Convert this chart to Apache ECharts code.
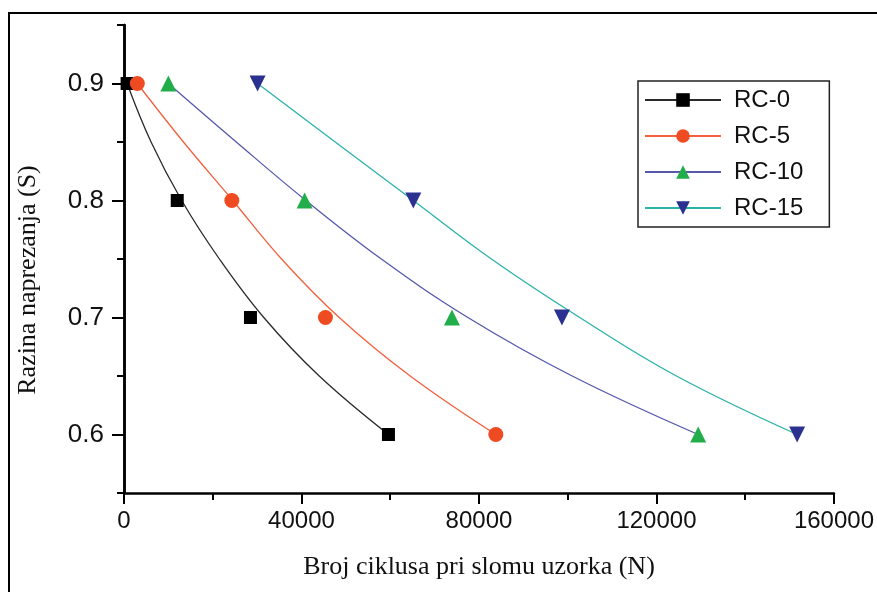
<!DOCTYPE html>
<html>
<head>
<meta charset="utf-8">
<script src="https://cdn.jsdelivr.net/npm/echarts@6/dist/echarts.min.js"></script>
<style>
html,body{margin:0;padding:0;background:#fff;}
#chart{width:877px;height:592px;}
</style>
</head>
<body>
<div id="chart"></div>
<script>
// ---- data ----
const seriesNames = ['RC-0', 'RC-5', 'RC-10', 'RC-15'];
const stressLevels = [0.9, 0.8, 0.7, 0.6];
const cyclesRC0 = [700, 12000, 28500, 59600];
const cyclesRC5 = [3000, 24300, 45400, 83800];
const cyclesRC10 = [10000, 40700, 73900, 129400];
const cyclesRC15 = [30100, 65200, 98700, 151700];
// fitted curves
const fitLevels = [0.9, 0.85, 0.8, 0.75, 0.7, 0.65, 0.6];
const fitRC0 = [700, 6100, 13000, 21500, 31500, 44000, 59600];
const fitRC5 = [3000, 13400, 24500, 35500, 48500, 64500, 83800];
const fitRC10 = [10000, 25300, 41000, 58000, 77500, 101000, 129400];
const fitRC15 = [30100, 47600, 65200, 82800, 102700, 124500, 151700];
// tick values
const xTickValues = [0, 40000, 80000, 120000, 160000];
const yMajorTicks = [0.6, 0.7, 0.8, 0.9];
const yMinorTicks = [0.55, 0.65, 0.75, 0.85, 0.95];

const pointSets = [cyclesRC0, cyclesRC5, cyclesRC10, cyclesRC15];
const fitSets = [fitRC0, fitRC5, fitRC10, fitRC15];
const markerColors = ['#000000', '#EF4B23', '#21AE4A', '#2B3190'];
const lineColors = ['#2a2a2a', '#F4603D', '#5558AC', '#2BB2A8'];
const symbols = ['rect', 'circle', 'triangle', 'triangle'];
const symbolSizes = [13, 15, 16, 16];
const symbolRotates = [0, 0, 0, 180];

const zip = (xs, ys) => xs.map((x, i) => [x, ys[i]]);

const series = [];
seriesNames.forEach((name, i) => {
  series.push({
    name: name,
    type: 'line',
    data: zip(fitSets[i], fitLevels),
    smooth: 0.4,
    showSymbol: false,
    symbol: symbols[i],
    symbolRotate: symbolRotates[i],
    itemStyle: { color: markerColors[i] },
    lineStyle: { color: lineColors[i], width: 1.3 },
    emphasis: { disabled: true },
    z: 2
  });
});
seriesNames.forEach((name, i) => {
  series.push({
    name: name + ' data',
    type: 'scatter',
    data: zip(pointSets[i], stressLevels),
    symbol: symbols[i],
    symbolSize: symbolSizes[i],
    symbolRotate: symbolRotates[i],
    itemStyle: { color: markerColors[i], opacity: 1 },
    z: 3
  });
});

const chart = echarts.init(document.getElementById('chart'), null, { renderer: 'canvas' });
chart.setOption({
  animation: false,
  backgroundColor: '#ffffff',
  grid: { left: 124, right: 41, top: 25, bottom: 99, containLabel: false },
  graphic: [{
    type: 'polyline',
    shape: { points: [[9, 592], [9, 13], [877, 13]] },
    style: { stroke: '#000', lineWidth: 2, fill: null },
    silent: true
  }],
  legend: {
    data: seriesNames,
    orient: 'vertical',
    left: 638,
    top: 81,
    itemWidth: 76,
    itemHeight: 17,
    itemGap: 12,
    padding: [7, 26, 7, 6],
    borderColor: '#222',
    borderWidth: 1.5,
    borderRadius: 0,
    textStyle: { fontFamily: 'Liberation Sans, Arial, sans-serif', fontSize: 24, color: '#111', padding: [0, 0, 0, 8] }
  },
  xAxis: {
    type: 'value',
    min: xTickValues[0],
    max: xTickValues[xTickValues.length - 1],
    interval: xTickValues[1] - xTickValues[0],
    name: 'Broj ciklusa pri slomu uzorka (N)',
    nameLocation: 'middle',
    nameGap: 61,
    nameTextStyle: { fontFamily: 'Liberation Serif, Times New Roman, serif', fontSize: 26, color: '#111' },
    axisLine: { show: true, lineStyle: { color: '#000', width: 2.5 } },
    axisTick: { show: true, length: 11, lineStyle: { color: '#000', width: 2 } },
    minorTick: { show: true, splitNumber: 2, length: 7, lineStyle: { color: '#000', width: 2 } },
    splitLine: { show: false },
    axisLabel: { formatter: v => String(v), fontFamily: 'Liberation Sans, Arial, sans-serif', fontSize: 24, color: '#111', margin: 16 }
  },
  yAxis: [{
    type: 'value',
    min: yMinorTicks[0],
    max: yMinorTicks[yMinorTicks.length - 1],
    position: 'left',
    name: 'Razina naprezanja (S)',
    nameLocation: 'middle',
    nameGap: 83,
    nameTextStyle: { fontFamily: 'Liberation Serif, Times New Roman, serif', fontSize: 26, color: '#111', padding: [0, 42, 0, 0] },
    axisLine: { show: true, lineStyle: { color: '#000', width: 2.5 } },
    axisTick: { show: true, length: 12, customValues: yMajorTicks, lineStyle: { color: '#000', width: 2 } },
    splitLine: { show: false },
    axisLabel: { customValues: yMajorTicks, formatter: v => v.toFixed(1), fontFamily: 'Liberation Sans, Arial, sans-serif', fontSize: 26, color: '#111', margin: 20 }
  }, {
    type: 'value',
    min: yMinorTicks[0],
    max: yMinorTicks[yMinorTicks.length - 1],
    position: 'left',
    offset: 0,
    axisLine: { show: true, lineStyle: { color: '#000', width: 2.5 } },
    axisTick: { show: true, length: 7, customValues: yMinorTicks, lineStyle: { color: '#000', width: 2 } },
    splitLine: { show: false },
    axisLabel: { show: false }
  }],
  series: series
});
</script>
</body>
</html>
